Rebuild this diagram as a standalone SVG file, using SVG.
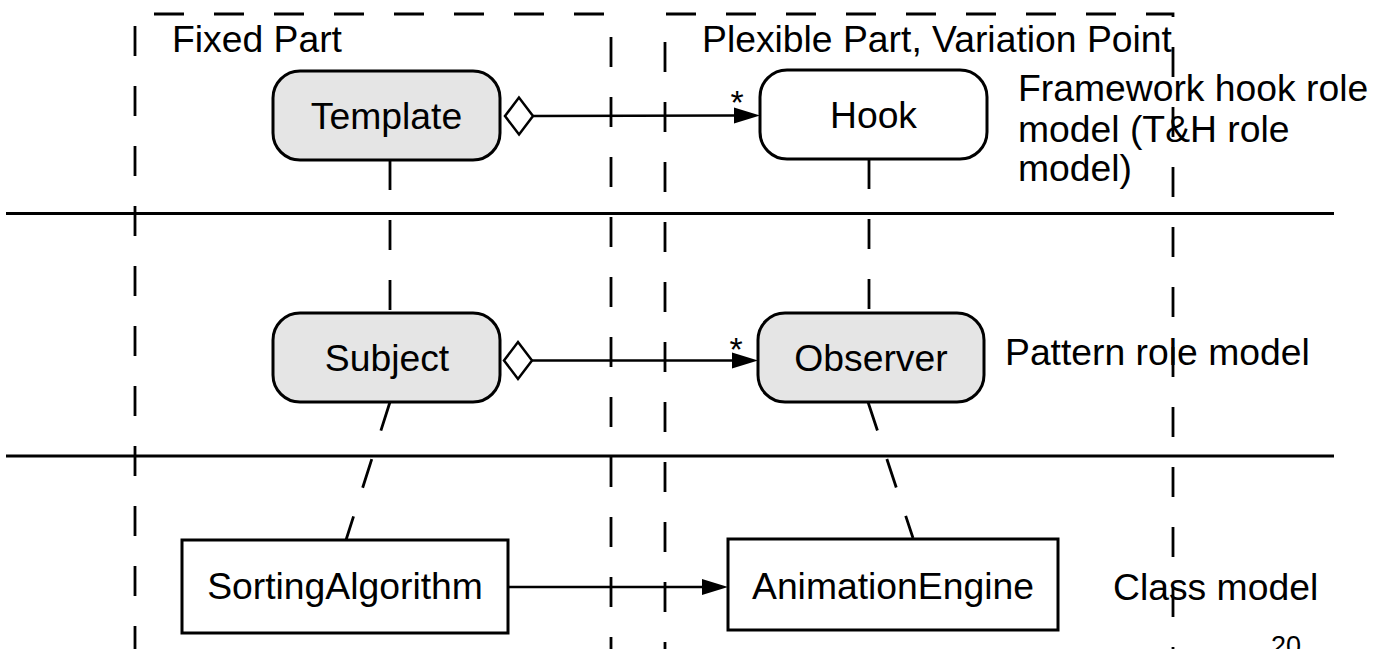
<svg xmlns="http://www.w3.org/2000/svg" width="1387" height="649" viewBox="0 0 1387 649">
<style>
text{font-family:"Liberation Sans",Arial,Helvetica,sans-serif;font-size:37.3px;fill:#000}
.mid{text-anchor:middle}
.node{stroke:#000;stroke-width:3}
.gray{fill:#e5e5e5}
.white{fill:#fff}
.dash{fill:none;stroke:#000;stroke-width:2.8;stroke-dasharray:30 30}
.solid{fill:none;stroke:#000;stroke-width:3}
.conn{fill:none;stroke:#000;stroke-width:2.5}
</style>
<defs>
<marker id="arrow" viewBox="0 0 26 16" refX="0" refY="8" markerWidth="26" markerHeight="16" markerUnits="userSpaceOnUse" orient="auto" overflow="visible">
<path d="M0,0 L26,8 L0,16 Z" fill="#000"/>
</marker>
<marker id="diamond" viewBox="-2 -2 32 41" refX="28" refY="18.5" markerWidth="32" markerHeight="41" markerUnits="userSpaceOnUse" orient="auto" overflow="visible">
<path d="M0,18.5 L14,0 L28,18.5 L14,37 Z" fill="#fff" stroke="#000" stroke-width="2.5"/>
</marker>
</defs>

<g id="layers">
<line class="solid" x1="6" y1="213.5" x2="1334" y2="213.5"/>
<line class="solid" x1="6" y1="456" x2="1334" y2="456"/>
</g>

<g id="labels">
<text x="172" y="52">Fixed Part</text>
<text x="702" y="52">Plexible Part, Variation Point</text>
<text x="1018" y="101">Framework hook role</text>
<text x="1018" y="142">model (T&amp;H role</text>
<text x="1018" y="181">model)</text>
<text x="1005" y="365">Pattern role model</text>
<text x="1113" y="600">Class model</text>
<text x="1271" y="655" style="font-size:27px">20</text>
</g>

<g id="parts">
<path class="dash" d="M154,14 H611 V660"/>
<path class="dash" d="M135,26 V660"/>
<path class="dash" d="M666,14 H1173 V660"/>
<path class="dash" d="M665,42 V660"/>
</g>

<g id="connectors">
<path class="dash" d="M390,160 V313"/>
<path class="dash" d="M869,159 V313"/>
<path class="dash" d="M390,402 L346,540"/>
<path class="dash" d="M868,402 L913,538"/>
<path class="conn" d="M533,116 L734,115.5" marker-start="url(#diamond)" marker-end="url(#arrow)"/>
<path class="conn" d="M532,360.5 L732,360.5" marker-start="url(#diamond)" marker-end="url(#arrow)"/>
<path class="conn" d="M508,587 L702,587" marker-end="url(#arrow)"/>
<text x="737" y="114" class="mid" style="font-size:34px">*</text>
<text x="736" y="361" class="mid" style="font-size:34px">*</text>
</g>

<g id="template">
<rect class="node gray" x="273" y="71" width="227" height="89" rx="27"/>
<text class="mid" x="386.5" y="129">Template</text>
</g>
<g id="hook">
<rect class="node white" x="760" y="70" width="227" height="89" rx="27"/>
<text class="mid" x="873.5" y="128">Hook</text>
</g>
<g id="subject">
<rect class="node gray" x="273" y="313" width="227" height="89" rx="27"/>
<text class="mid" x="387" y="371">Subject</text>
</g>
<g id="observer">
<rect class="node gray" x="758" y="313" width="226" height="89" rx="27"/>
<text class="mid" x="871" y="371">Observer</text>
</g>
<g id="sortingalgorithm">
<rect class="node white" x="182" y="540" width="326" height="93"/>
<text class="mid" x="345" y="599">SortingAlgorithm</text>
</g>
<g id="animationengine">
<rect class="node white" x="728" y="539" width="330" height="91"/>
<text class="mid" x="893" y="599">AnimationEngine</text>
</g>
</svg>
